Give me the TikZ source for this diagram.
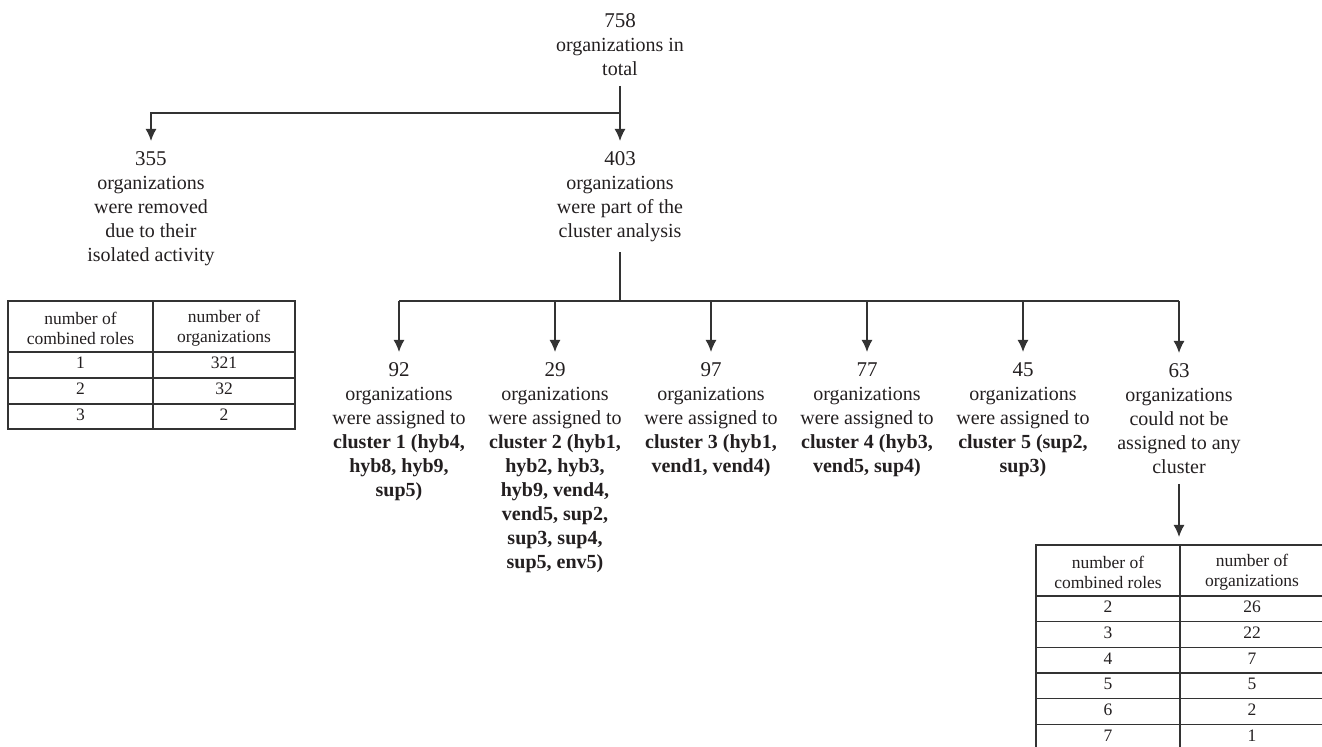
\documentclass[tikz,border=0pt]{standalone}
\usepackage{fontspec}
\setmainfont{Liberation Serif}
\usetikzlibrary{arrows.meta}

\definecolor{flowline}{RGB}{51,51,51}
\definecolor{flowtext}{RGB}{35,31,32}

\newcommand{\orgcount}[1]{{\fontsize{10.5}{12}\selectfont #1}}

\begin{document}
\begin{tikzpicture}[x=0.5pt, y=-0.5pt,
  stage/.style={align=center, anchor=north, inner xsep=0pt, inner ysep=5pt,
    font=\fontsize{10}{12}\selectfont, text=flowtext},
  link/.style={flowline, line width=0.7pt},
  flow/.style={link, -{Latex[length=6pt,width=5.5pt]}},
  cellline/.style={flowline, line width=0.6pt},
  cell/.style={align=center, inner sep=0pt, font=\fontsize{8.75}{10}\selectfont, text=flowtext}]
\useasboundingbox (0,0) rectangle (1322,747);
%% first split: removed vs. analysed
\node[stage] (total) at (620,3) {\orgcount{758}\\organizations in\\total};
\node[stage] (removed) at (151,141) {\orgcount{355}\\organizations\\were removed\\due to their\\isolated activity};
\node[stage] (analysis) at (620,141) {\orgcount{403}\\organizations\\were part of the\\cluster analysis};
\coordinate (split) at (620,113);
\draw[link] (total) -- (split);
\draw[flow] (split) -| (removed);
\draw[flow] (split) -- (analysis);
%% second split: the clusters
\node[stage] (c1) at (399,352) {\orgcount{92}\\organizations\\were assigned to\\\textbf{cluster 1 (hyb4,}\\\textbf{hyb8, hyb9,}\\\textbf{sup5)}};
\node[stage] (c2) at (555,352) {\orgcount{29}\\organizations\\were assigned to\\\textbf{cluster 2 (hyb1,}\\\textbf{hyb2, hyb3,}\\\textbf{hyb9, vend4,}\\\textbf{vend5, sup2,}\\\textbf{sup3, sup4,}\\\textbf{sup5, env5)}};
\node[stage] (c3) at (711,352) {\orgcount{97}\\organizations\\were assigned to\\\textbf{cluster 3 (hyb1,}\\\textbf{vend1, vend4)}};
\node[stage] (c4) at (867,352) {\orgcount{77}\\organizations\\were assigned to\\\textbf{cluster 4 (hyb3,}\\\textbf{vend5, sup4)}};
\node[stage] (c5) at (1023,352) {\orgcount{45}\\organizations\\were assigned to\\\textbf{cluster 5 (sup2,}\\\textbf{sup3)}};
\node[stage] (c6) at (1179,353) {\orgcount{63}\\organizations\\could not be\\assigned to any\\cluster};
\coordinate (branch) at (620,301);
\draw[link] (analysis) -- (branch);
\draw[link] (c1 |- branch) -- (c6 |- branch);
\foreach \i in {1,...,6}
  \draw[flow] (c\i |- branch) -- (c\i);
%% table of the removed organizations
\draw[cellline] (8,301) rectangle (295,429);
\draw[cellline] (153,301) -- (153,429);
\foreach \y in {352,378,404}
  \draw[cellline] (8,\y) -- (295,\y);
\node[cell] (lhead1) at (80.5,328) {number of\\combined roles};
\node[cell] (lhead2) at (224,328) {number of\\organizations};
\foreach \r/\n [count=\i] in {1/321,2/32,3/2} {
  \node[cell] (lrole\i) at (80.5,{352+25.7*\i-14.5}) {\r};
  \node[cell] (lorg\i) at (224,{352+25.7*\i-14.5}) {\n};
}
%% table of the unassigned organizations
\coordinate (rtop) at (1179,545);
\draw[flow, shorten >=4pt] (c6) -- (rtop);
\draw[cellline] (1036,545) rectangle (1324,750.2);
\draw[cellline] (1180,545) -- (1180,750.2);
\foreach \k in {0,...,5}
  \draw[cellline] (1036,{596+25.7*\k}) -- (1324,{596+25.7*\k});
\node[cell] (rhead1) at (1108,572) {number of\\combined roles};
\node[cell] (rhead2) at (1252,572) {number of\\organizations};
\foreach \r/\n [count=\i] in {2/26,3/22,4/7,5/5,6/2,7/1} {
  \node[cell] (rrole\i) at (1108,{596+25.7*\i-14.5}) {\r};
  \node[cell] (rorg\i) at (1252,{596+25.7*\i-14.5}) {\n};
}
\end{tikzpicture}
\end{document}
